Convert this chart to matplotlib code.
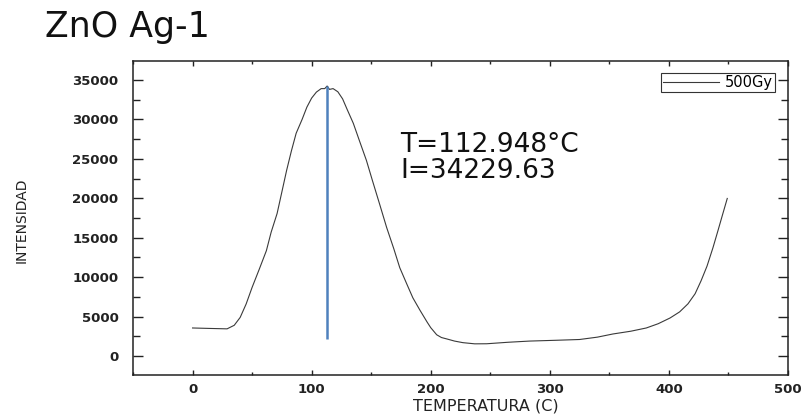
import matplotlib
matplotlib.use("Agg")
import matplotlib.pyplot as plt
from matplotlib.ticker import MultipleLocator

# glow curve
temperature = [0, 15, 29, 35, 40, 45, 50, 56, 62, 66, 71, 75, 79, 83, 87, 92,
               96, 100, 104, 108, 111, 113, 115, 118, 122, 126, 130, 135, 140,
               146, 151, 157, 163, 169, 174, 180, 185, 191, 197, 200, 205, 209,
               214, 220, 227, 237, 247, 265, 283, 305, 325, 340, 353, 368, 381,
               391, 401, 409, 416, 422, 427, 432, 437, 441, 445, 449]
intensity = [3560, 3500, 3450, 3900, 4900, 6600, 8700, 11000, 13360, 15700,
             18070, 20800, 23540, 26000, 28240, 30000, 31550, 32700, 33460,
             33900, 33900, 34229, 33800, 33900, 33500, 32600, 31200, 29500,
             27350, 24800, 22270, 19300, 16290, 13600, 11200, 9100, 7380, 5800,
             4300, 3600, 2700, 2350, 2150, 1900, 1700, 1550, 1560, 1750, 1900,
             2000, 2100, 2400, 2800, 3150, 3560, 4100, 4830, 5600, 6620, 7900,
             9540, 11400, 13740, 15800, 17900, 19980]
series_label = "500Gy"

peak_T = 112.948
peak_I = 34229.63
peak_line_bottom = 2200

x_ticks = [0, 100, 200, 300, 400, 500]
y_ticks = [0, 5000, 10000, 15000, 20000, 25000, 30000, 35000]

fig = plt.figure(figsize=(8.07, 4.2), dpi=100)
ax = fig.add_axes([133 / 807, 1 - 375 / 420, 655 / 807, 314 / 420])

ax.plot(temperature, intensity, color="#3a3a3a", lw=0.8, label=series_label)
ax.vlines(peak_T, peak_line_bottom, peak_I, color="#4f81bd", lw=1.8)

ax.set_xlim(-50, 500)
ax.set_ylim(-2400, 37400)
ax.set_xticks(x_ticks)
ax.set_yticks(y_ticks)
ax.xaxis.set_minor_locator(MultipleLocator(50))
ax.yaxis.set_minor_locator(MultipleLocator(2500))

ax.tick_params(axis="both", which="both", direction="in",
               top=True, right=True, width=1.0, color="#222222")
ax.tick_params(axis="x", which="major", length=3.8, pad=6)
ax.tick_params(axis="x", which="minor", length=2.2)
ax.tick_params(axis="y", which="major", length=7, pad=10.5)
ax.tick_params(axis="y", which="minor", length=5)
for lbl in ax.get_xticklabels() + ax.get_yticklabels():
    lbl.set_fontsize(9.5)
    lbl.set_fontweight("bold")
    lbl.set_color("#222222")

for sp in ax.spines.values():
    sp.set_linewidth(1.1)
    sp.set_color("#222222")

ax.set_xlabel("TEMPERATURA (C)", fontsize=11.5, color="#222222", va="center")
ax.xaxis.set_label_coords(0.538, -0.099)
fig.text(22 / 807, 1 - 220 / 420, "INTENSIDAD", rotation=90,
         ha="center", va="center", fontsize=10, color="#222222")

fig.text(45 / 807, 1 - 37 / 420, "ZnO Ag-1", fontsize=25,
         ha="left", va="baseline", color="#111111")

ax.text(0.4076, 0.710, f"T={peak_T}°C", transform=ax.transAxes,
        fontsize=19, ha="left", va="baseline", color="#111111")
ax.text(0.4076, 0.627, f"I={peak_I}", transform=ax.transAxes,
        fontsize=19, ha="left", va="baseline", color="#111111")

leg = ax.legend(loc="upper right", bbox_to_anchor=(0.980, 0.962),
                borderaxespad=0, fontsize=10.5, handlelength=3.8,
                handletextpad=0.4, borderpad=0.15, fancybox=False,
                framealpha=1, edgecolor="#333333")
leg.get_frame().set_linewidth(0.8)

fig.savefig("out.png", dpi=100)
